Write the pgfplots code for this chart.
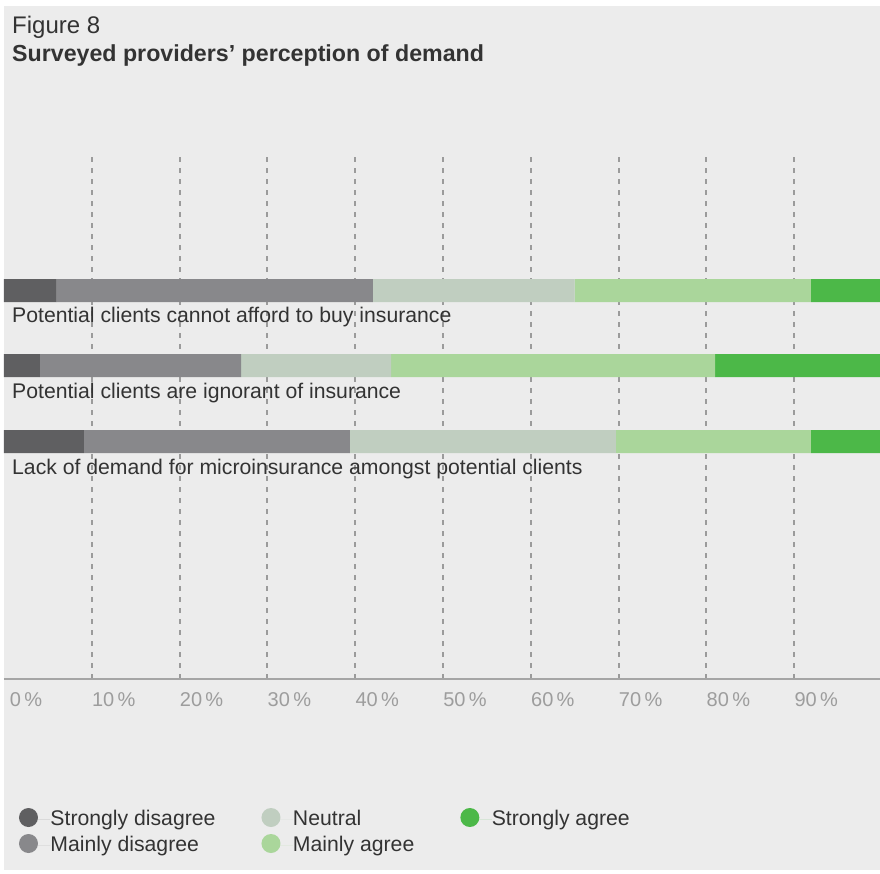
\documentclass[border=0pt]{standalone}
\usepackage{pgfplots}
\pgfplotsset{compat=1.18}
\usepackage{fontspec}
\setmainfont{Liberation Sans}
\definecolor{bg}{HTML}{ECECEC}
\definecolor{sd}{HTML}{5F5F61}
\definecolor{md}{HTML}{88888B}
\definecolor{neu}{HTML}{C0CEC0}
\definecolor{ma}{HTML}{AAD69B}
\definecolor{sa}{HTML}{4CB848}
\definecolor{gridgray}{HTML}{9B9B9B}
\definecolor{axisgray}{HTML}{A5A5A5}
\definecolor{ticktext}{HTML}{9D9D9D}
\definecolor{textdark}{HTML}{333333}
\begin{document}
\begin{tikzpicture}
\useasboundingbox (0,0) rectangle (880pt,-874pt);
\fill[white] (0,0) rectangle (880pt,-874pt);
\fill[bg] (4pt,-6pt) rectangle (880pt,-870pt);
\begin{axis}[
  at={(4pt,-679pt)}, anchor=south west,
  scale only axis, width=876pt, height=522pt,
  xmin=0, xmax=99.77, ymin=157, ymax=679, y dir=reverse,
  xbar stacked, bar width=23pt,
  axis x line*=bottom, axis y line=none,
  x axis line style={-, line width=1.8pt, draw=axisgray},
  xtick={10,20,...,90},
  xticklabels={10\,\%,20\,\%,30\,\%,40\,\%,50\,\%,60\,\%,70\,\%,80\,\%,90\,\%},
  extra x ticks={0}, extra x tick labels={0\,\%},
  extra x tick style={grid=none},
  xmajorgrids,
  grid style={dash pattern=on 5pt off 6pt, line width=2pt, draw=gridgray},
  major tick length=0pt,
  xticklabel style={anchor=center, xshift=22pt, yshift=-21pt, text=ticktext, font=\fontsize{20pt}{24pt}\selectfont},
  ytick=\empty,
  legend columns=2, transpose legend,
  legend cell align=left,
  legend style={at={(axis cs:1.708,808)}, anchor=north west, draw=none, fill=none,
    inner sep=0pt, outer sep=0pt, row sep=3pt, column sep=0pt,
    font=\fontsize{21.2pt}{24pt}\selectfont, text=textdark,
    nodes={inner sep=0pt, text height=17pt, text depth=6pt},
    /tikz/every even column/.append style={column sep=46pt}},
]
\addplot[fill=sd, draw=none, legend image code/.code={\path (0pt,0pt) -- (31pt,0pt); \fill[sd] (9pt,2pt) circle (9.5pt);}]
  coordinates {(6.0,290.5) (4.1,365.5) (9.1,441.5)};
\addlegendentry{Strongly disagree}
\addplot[fill=md, draw=none, legend image code/.code={\path (0pt,0pt) -- (31pt,0pt); \fill[md] (9pt,2pt) circle (9.5pt);}]
  coordinates {(36.0,290.5) (22.9,365.5) (30.3,441.5)};
\addlegendentry{Mainly disagree}
\addplot[fill=neu, draw=none, legend image code/.code={\path (0pt,0pt) -- (31pt,0pt); \fill[neu] (9pt,2pt) circle (9.5pt);}]
  coordinates {(23.0,290.5) (17.1,365.5) (30.3,441.5)};
\addlegendentry{Neutral}
\addplot[fill=ma, draw=none, legend image code/.code={\path (0pt,0pt) -- (31pt,0pt); \fill[ma] (9pt,2pt) circle (9.5pt);}]
  coordinates {(26.9,290.5) (36.9,365.5) (22.2,441.5)};
\addlegendentry{Mainly agree}
\addplot[fill=sa, draw=none, legend image code/.code={\path (0pt,0pt) -- (31pt,0pt); \fill[sa] (9pt,2pt) circle (9.5pt);}]
  coordinates {(8.1,290.5) (19.0,365.5) (8.1,441.5)};
\addlegendentry{Strongly agree}
\end{axis}
\node[anchor=base west, inner sep=0pt, text=textdark, font=\fontsize{24pt}{28pt}\selectfont] at (12pt,-33.5pt) {Figure 8};
\node[anchor=base west, inner sep=0pt, text=textdark, font=\fontsize{23.2pt}{28pt}\selectfont\bfseries] at (12pt,-62pt) {Surveyed providers’ perception of demand};
\node[anchor=base west, inner sep=0pt, text=textdark, font=\fontsize{21.2pt}{24pt}\selectfont] at (12pt,-323pt) {Potential clients cannot afford to buy insurance};
\node[anchor=base west, inner sep=0pt, text=textdark, font=\fontsize{21.2pt}{24pt}\selectfont] at (12pt,-398pt) {Potential clients are ignorant of insurance};
\node[anchor=base west, inner sep=0pt, text=textdark, font=\fontsize{21.2pt}{24pt}\selectfont] at (12pt,-474pt) {Lack of demand for microinsurance amongst potential clients};
\end{tikzpicture}
\end{document}
